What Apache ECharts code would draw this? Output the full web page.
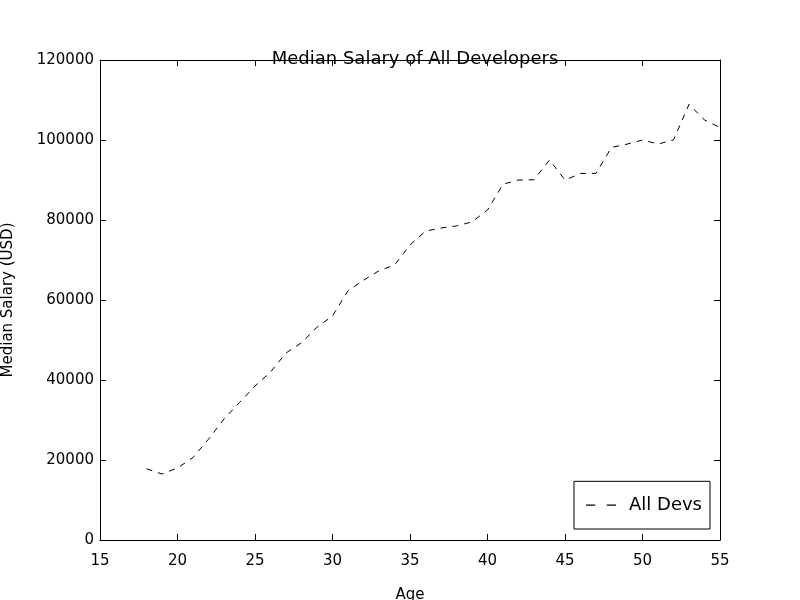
<!DOCTYPE html><html><head><script src="https://cdn.jsdelivr.net/npm/echarts@6/dist/echarts.min.js"></script></head><body style="margin:0"><div id="c" style="width:800px;height:600px"></div><script>
const ages=[18,19,20,21,22,23,24,25,26,27,28,29,30,31,32,33,34,35,36,37,38,39,40,41,42,43,44,45,46,47,48,49,50,51,52,53,54,55];
const devY=[17784,16500,18012,20628,25206,30252,34368,38496,42000,46752,49320,53200,56000,62316,64928,67317,68748,73752,77232,78000,78508,79536,82488,88935,90000,90056,95000,90000,91633,91660,98150,98964,100000,98988,100000,108923,105000,103117];
const f='DejaVu Sans';
const ax={axisLine:{show:true,onZero:false,lineStyle:{color:'#000'}},axisTick:{inside:true,length:6,lineStyle:{color:'#000'}},splitLine:{show:false}};
const chart=echarts.init(document.getElementById('c'));
chart.setOption({animation:false,
title:{text:'Median Salary of All Developers',left:410,top:36,textAlign:'center',textStyle:{fontFamily:f,fontWeight:'normal',fontSize:18,color:'#000'}},
grid:{left:100,right:80,top:60,bottom:60,containLabel:false,outerBoundsMode:'none'},
legend:{right:90,bottom:71,orient:'vertical',borderColor:'#000',borderWidth:1,borderRadius:0,padding:[6,8,6,12],itemWidth:30,itemHeight:12,itemGap:10,textStyle:{fontFamily:f,fontSize:18,color:'#000',padding:[0,0,0,8]},data:[{name:'All Devs',icon:'path://M0,5h8v1h-8zM18,5h8v1h-8z',itemStyle:{color:'#000'}}]},
xAxis:[{type:'value',min:15,max:55,interval:5,name:'Age',nameLocation:'middle',nameGap:26,nameTextStyle:{fontFamily:f,fontSize:15,color:'#000'},axisLabel:{fontFamily:f,fontSize:15,color:'#000',margin:6},...ax},
{type:'value',position:'top',min:15,max:55,interval:5,axisLabel:{show:false},...ax}],
yAxis:[{type:'value',min:0,max:120000,interval:20000,name:'Median Salary (USD)',nameLocation:'middle',nameGap:77,nameTextStyle:{fontFamily:f,fontSize:15,color:'#000'},axisLabel:{fontFamily:f,fontSize:15,color:'#000',margin:6,formatter:v=>String(v)},...ax},
{type:'value',position:'right',min:0,max:120000,interval:20000,axisLabel:{show:false},...ax}],
series:[{name:'All Devs',type:'line',showSymbol:false,data:ages.map((a,i)=>[a,devY[i]]),lineStyle:{color:'#000',width:1,type:[6,6]},itemStyle:{color:'#000'}}]});
</script></body></html>
